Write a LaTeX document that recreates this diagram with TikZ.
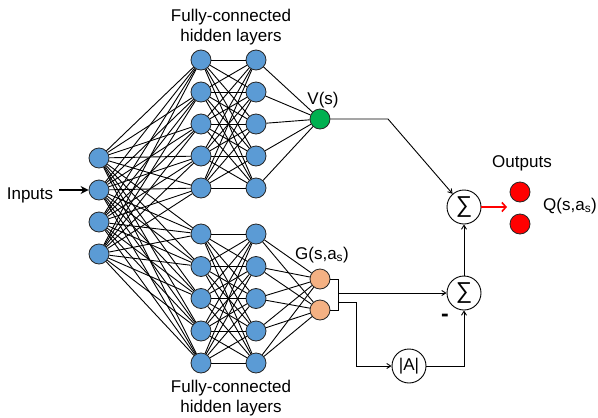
\documentclass[tikz,border=0pt]{standalone}
\usepackage{fontspec}
\setmainfont{Liberation Sans}
\usetikzlibrary{arrows.meta}
\definecolor{nblue}{HTML}{5B9BD5}
\definecolor{ngreen}{HTML}{00B050}
\definecolor{norange}{HTML}{F4B183}
\definecolor{nred}{HTML}{FF0000}
\begin{document}
\begin{tikzpicture}[x=1pt,y=-1pt,
  font=\fontsize{17}{20}\selectfont,
  neuron/.style={circle, draw=black!85, line width=0.8pt, minimum size=20pt, inner sep=0pt},
  op/.style={circle, draw=black, line width=0.9pt, minimum size=34pt, inner sep=0pt},
  edge/.style={draw=black, line width=0.9pt},
  conn/.style={draw=black, line width=0.9pt},
  arr/.style={conn, -{Straight Barb[length=4pt,width=5pt]}},
  lbl/.style={inner sep=0pt, align=center}]
\useasboundingbox (0,0) rectangle (598,418);

% input layer
\foreach \i/\y in {1/158,2/190,3/222,4/254}
  \node[neuron, fill=nblue] (in\i) at (99,\y) {};
% upper hidden layers
\foreach \i/\y in {1/60,2/92,3/124,4/156,5/188}{
  \node[neuron, fill=nblue] (ua\i) at (201,\y) {};
  \node[neuron, fill=nblue] (ub\i) at (256,\y) {};
}
% lower hidden layers
\foreach \i/\y in {1/234,2/266.5,3/298.5,4/331,5/363}{
  \node[neuron, fill=nblue] (la\i) at (201,\y) {};
  \node[neuron, fill=nblue] (lb\i) at (256,\y) {};
}
% value and advantage streams
\node[neuron, fill=ngreen] (v) at (320,119) {};
\node[neuron, fill=norange] (g1) at (320,279) {};
\node[neuron, fill=norange] (g2) at (320,310) {};
% outputs
\node[neuron, fill=nred] (o1) at (520,192) {};
\node[neuron, fill=nred] (o2) at (520,224) {};
% operators
\node[op] (s1) at (464,207) {\fontsize{23}{23}\selectfont ∑};
\node[op] (s2) at (464,293) {\fontsize{23}{23}\selectfont ∑};
\node[op] (abs) at (409,366) {|A|};

% edges
\foreach \i in {1,...,4}
  \foreach \j in {1,...,5}{
    \draw[edge] (in\i) -- (ua\j);
    \draw[edge] (in\i) -- (la\j);
  }
\foreach \i in {1,...,5}
  \foreach \j in {1,...,5}{
    \draw[edge] (ua\i) -- (ub\j);
    \draw[edge] (la\i) -- (lb\j);
  }
\foreach \i in {1,...,5}{
  \draw[edge] (ub\i) -- (v);
  \draw[edge] (lb\i) -- (g1);
  \draw[edge] (lb\i) -- (g2);
}

% labels
\node[lbl] (t1) at (231,27) {Fully-connected\\hidden layers};
\node[lbl] (t2) at (231,398) {Fully-connected\\hidden layers};
\node[lbl] (vl) at (323,100) {V(s)};
\node[lbl] (gl) at (322,255) {G(s,a\textsubscript{s})};
\node[lbl] (inl) at (30,195) {Inputs};
\node[lbl] (outl) at (522,163) {Outputs};
\node[lbl, anchor=west] (ql) at (543,206) {Q(s,a\textsubscript{s})};
\node[lbl] (minus) at (445,318) {\fontsize{23}{23}\selectfont\textbf{-}};

% connectors
\coordinate (ia) at (59,190);
\draw[line width=2.2pt, -{Stealth[length=8pt,width=8pt]}] (ia) -- (in2);

\coordinate (vk) at (388,119);
\draw[arr] (v) -- (vk) -- (s1);

\coordinate (gt) at (338,279);
\coordinate (gb) at (338,310);
\coordinate (gm) at (338,293);
\coordinate (gn) at (338,302);
\coordinate (gd) at (356,302);
\draw[conn] (g1) -- (gt) -- (gb) -- (g2);
\draw[arr] (gm) -- (s2);
\draw[arr] (gn) -- (gd) |- (abs);
\draw[arr] (abs) -| (s2);
\draw[arr] (s2) -- (s1);
\coordinate (ra) at (507,207);
\draw[draw=nred, line width=1.6pt, -{Straight Barb[length=4pt,width=9pt]}] (s1) -- (ra);
\end{tikzpicture}
\end{document}
